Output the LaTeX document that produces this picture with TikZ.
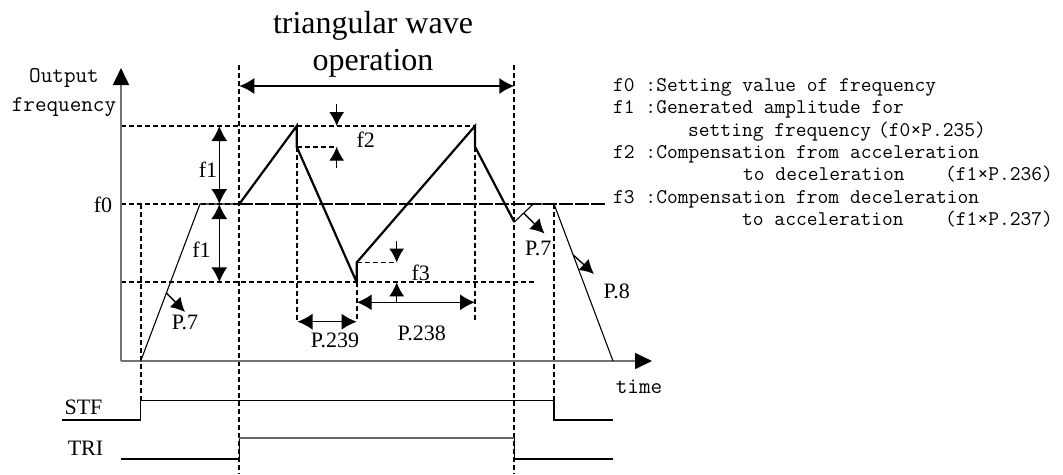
\documentclass[tikz,border=0pt]{standalone}
\usepackage{fontspec}
\setmainfont{Liberation Serif}
\setmonofont{Latin Modern Mono}
\usetikzlibrary{arrows.meta}
\begin{document}
\begin{tikzpicture}[x=1pt,y=-1pt,
  wave/.style={line width=2.2pt, line join=miter},
  thinln/.style={line width=1.1pt},
  dline/.style={line width=1.7pt, dash pattern=on 5pt off 3pt},
  ldline/.style={line width=1.6pt, dash pattern=on 14pt off 2pt},
  axisln/.style={line width=1.6pt, draw=black!55, -{Triangle[length=17pt,width=16pt,color=black]}},
  dimln/.style={line width=1.4pt, {Latex[length=15pt,width=16pt]}-{Latex[length=15pt,width=16pt]}},
  ptr/.style={line width=1.4pt, -{Latex[length=14pt,width=15pt]}},
  lbl/.style={font=\fontsize{22}{24}\selectfont, inner sep=0pt},
  ttl/.style={font=\fontsize{32}{37}\selectfont, inner sep=0pt},
  mono/.style={font=\fontsize{22.5}{24}\selectfont\ttfamily, inner sep=0pt},
  leg/.style={font=\fontsize{20.9}{22}\selectfont\ttfamily, inner sep=0pt, anchor=base west},
  sig/.style={line width=1.2pt},
]
\useasboundingbox (0,0) rectangle (1063,474);

% key coordinates
\coordinate (O) at (121,361);
\coordinate (Ytip) at (121,68);
\coordinate (Xtip) at (652,361);
\coordinate (a0) at (140.7,361);
\coordinate (a1) at (200,204);
\coordinate (t0) at (239.3,204);
\coordinate (p1) at (296.7,126);
\coordinate (p1b) at (296.7,146.7);
\coordinate (v1) at (356.7,282.3);
\coordinate (v1b) at (356.7,262.5);
\coordinate (p2) at (475,126);
\coordinate (p2b) at (475,146.7);
\coordinate (v2) at (514.3,222);
\coordinate (r1) at (533.3,204);
\coordinate (d0) at (554,204);
\coordinate (d1) at (613,361);

% reference dashed lines
\draw[dline] (121,126) -- (p2);
\draw[dline] (121,204) -- (t0);
\draw[ldline] (t0) -- (605,204);
\draw[dline] (121,282.3) -- (535,282.3);
\draw[dline] (140.7,204) -- (140.7,400.7);
\draw[dline] (239.3,65) -- (239.3,474);
\draw[dline] (514.3,65) -- (514.3,474);
\draw[dline] (d0) -- (554,400.7);
\draw[dline] (p1b) -- (296.7,321.7);
\draw[dline] (v1) -- (356.7,321.7);
\draw[dline] (p2b) -- (475,321.7);
\draw[dline] (p1b) -- (336.7,146.7);
\draw[dline] (v1b) -- (396.7,262.5);

% axes
\draw[axisln] (O) -- (Ytip);
\draw[axisln] (O) -- (Xtip);

% waveform
\draw[thinln] (a0) -- (a1) -- (t0);
\draw[wave] (t0) -- (p1) -- (p1b) -- (v1) -- (v1b) -- (p2) -- (p2b) -- (v2);
\draw[thinln] (v2) -- (r1) -- (d0) -- (d1);

% dimension arrows
\draw[dimln] (239.3,86) -- (514.3,86);
\draw[dimln] (219.3,126) -- (219.3,204);
\draw[dimln] (219.3,204) -- (219.3,282.3);
\draw[dimln] (297.5,321.7) -- (356.7,321.7);
\draw[dimln] (356.7,302.3) -- (475,302.3);
\draw[ptr] (336.7,104) -- (336.7,126);
\draw[ptr] (336.7,168) -- (336.7,146.7);
\draw[ptr] (396.7,241) -- (396.7,262.5);
\draw[ptr] (396.7,302.3) -- (396.7,282.3);
\draw[ptr] (166.5,293) -- (185,312);
\draw[ptr] (523.8,213.3) -- (544.5,233.5);
\draw[ptr] (573.3,255) -- (594,274);

% signals
\draw[sig] (61.7,420) -- (140.7,420) -- (140.7,400.7) -- (554,400.7) -- (554,420) -- (613,420);
\draw[sig] (120.7,459) -- (239.3,459) -- (239.3,437.7);
\draw[line width=1.7pt, draw=black!60] (239.3,437.7) -- (514.3,437.7);
\draw[sig] (514.3,437.7) -- (514.3,459) -- (613,459);

% labels
\node[ttl, anchor=base] (title1) at (373,33) {triangular wave};
\node[ttl, anchor=base] (title2) at (373,70) {operation};
\node[mono] (outp) at (64,78) {Output};
\node[mono] (freq) at (64,107) {frequency};
\node[mono] (time) at (639,387) {time};
\node[lbl] (f0) at (103,205) {f0};
\node[lbl] (f1a) at (208,170) {f1};
\node[lbl] (f1b) at (201.5,250) {f1};
\node[lbl] (f2) at (365.7,140) {f2};
\node[lbl] (f3) at (420.7,273.3) {f3};
\node[lbl] (pa) at (185,322) {P.7};
\node[lbl] (pb) at (538.3,248.3) {P.7};
\node[lbl] (pc) at (616.7,291.7) {P.8};
\node[lbl] (p239) at (335,340) {P.239};
\node[lbl] (p238) at (421.7,333) {P.238};
\node[lbl] (stf) at (83.5,407) {STF};
\node[lbl] (tri) at (85.5,448) {TRI};

% legend
\node[leg] (l1) at (613,91) {f0 :Setting value of frequency};
\node[leg] (l2) at (613,113) {f1 :Generated amplitude for};
\node[leg] (l3) at (688,136) {setting frequency};
\node[leg] (l3b) at (878,136) {(f0×P.235)};
\node[leg] (l4) at (613,158) {f2 :Compensation from acceleration};
\node[leg] (l5) at (743,180) {to deceleration};
\node[leg] (l5b) at (945,180) {(f1×P.236)};
\node[leg] (l6) at (613,203) {f3 :Compensation from deceleration};
\node[leg] (l7) at (742,225) {to acceleration};
\node[leg] (l7b) at (945,225) {(f1×P.237)};
\end{tikzpicture}
\end{document}
